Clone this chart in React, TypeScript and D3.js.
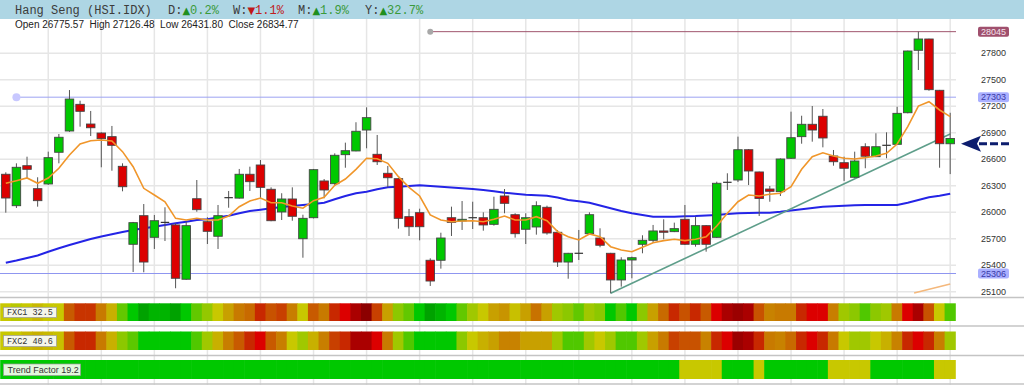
import React from 'react';
import * as d3 from 'd3';

// ---- Data ----
const opens = [26430,26074,26527,26267,26320,26679,26920,27222,26999,26897,26856,26520,25637,25961,25716,25885,25856,25241,26153,25893,25728,26165,26160,26430,26535,26260,26003,26150,25700,25938,26354,26323,26652,26694,26931,26656,26441,26380,25950,25995,25456,25456,25938,25901,25938,25938,25863,26184,25972,25807,25833,26056,25773,25436,25535,25757,25708,25535,25233,25459,25637,25682,25788,25780,25920,25637,25848,25716,26339,26365,26708,26456,26263,26233,26611,26856,26996,27087,26637,26561,26396,26742,26629,26758,26769,27127,27834,27962,27381,26775.57];
const highs = [26452,26554,26629,26396,26686,26886,27384,27263,27147,26905,26977,26554,25890,26093,25969,26056,25875,25893,26365,25943,26082,26241,26490,26516,26592,26282,26215,26282,25972,26490,26376,26667,26788,27019,27188,26875,26524,26385,26037,26040,25478,25768,26063,26127,26119,25999,26176,26263,25988,25988,26124,26074,25799,25540,25799,25999,25818,25540,25490,25497,25739,25856,25920,25882,26082,25950,25855,26346,26441,26856,26715,26460,26297,26610,27139,27093,27203,27169,26705,26629,26686,26781,26894,26905,27195,27830,28045,27965,27385,27126.48];
const lows = [25995,26048,26384,26063,26310,26554,26910,26969,26863,26509,26470,26237,25323,25320,25584,25674,25139,25235,26006,25640,25584,26051,26155,26241,26150,25898,25912,25904,25485,25930,26158,26297,26504,26690,26724,26535,26282,25814,25731,25682,25165,25361,25731,25799,25810,25791,25848,25988,25712,25640,25746,25746,25380,25247,25459,25750,25603,25082,25157,25252,25535,25655,25694,25775,25630,25610,25553,25710,26252,26342,26308,25957,26119,26184,26605,26776,26799,26735,26527,26354,26390,26498,26625,26611,26762,27120,27611,27376,26504,26431.80];
const closes = [26161,26509,26486,26131,26618,26849,27282,27143,26957,26833,26758,26289,25882,25436,25904,25885,25252,25848,26029,25784,25961,26165,26430,26346,26282,25904,26150,25954,25931,26482,26252,26645,26697,26917,27071,26572,26391,25931,25836,25836,25221,25708,25886,25920,25938,25856,26033,26101,25757,25938,26074,25765,25436,25535,25535,25972,25626,25233,25459,25485,25682,25788,25773,25814,25637,25848,25637,26328,26339,26708,26467,26156,26237,26603,26844,26996,26931,26841,26572,26498,26580,26634,26742,26758,27120,27826,27962,27388,26776,26834.77];

const fastMA = [26328,26357,26388,26328,26388,26498,26648,26773,26810,26818,26807,26686,26516,26271,26195,26119,25931,25912,25931,25912,25912,25957,26063,26127,26161,26108,26108,26071,26045,26131,26169,26305,26376,26486,26611,26606,26554,26403,26282,26184,25969,25912,25893,25901,25904,25893,25920,25957,25912,25912,25950,25904,25780,25723,25686,25754,25723,25610,25572,25553,25603,25655,25678,25694,25678,25694,25723,25844,25988,26119,26195,26184,26203,26215,26289,26486,26629,26674,26637,26611,26603,26618,26637,26668,26773,26969,27203,27252,27158,27082];
const slowMA = [25427,25453,25482,25510,25553,25592,25629,25663,25697,25725,25750,25776,25799,25818,25836,25856,25875,25893,25912,25920,25940,25961,25988,26014,26029,26045,26059,26071,26082,26093,26108,26147,26184,26215,26233,26260,26282,26289,26297,26305,26297,26289,26280,26271,26263,26252,26237,26221,26210,26199,26193,26187,26167,26139,26124,26108,26076,26045,26014,25988,25969,25950,25950,25950,25954,25957,25963,25969,25980,25988,25991,25995,25995,26006,26020,26033,26048,26063,26068,26074,26079,26082,26082,26082,26082,26108,26139,26169,26187,26210];

const fxc1 = [50,48,50,52,50,50,70,78,78,62,53,33,20,4,10,10,4,20,33,42,50,55,62,66,80,72,76,61,50,70,62,80,85,90,100,76,55,40,33,20,4,10,20,33,45,50,55,57,51,55,64,55,45,40,33,45,40,20,30,20,40,55,66,80,72,80,70,85,90,95,90,72,60,62,62,80,85,85,61,45,40,30,40,45,62,85,90,72,50,30];
const fxc2 = [50,50,52,53,52,51,70,80,80,62,53,40,32,20,20,20,20,20,30,45,53,61,70,80,85,70,61,50,45,53,61,76,80,90,90,85,62,45,30,20,20,20,20,40,50,53,55,60,60,55,55,55,45,30,30,45,50,45,30,30,45,55,62,76,72,72,60,80,85,95,90,80,62,60,66,80,85,80,62,50,45,45,50,53,60,80,85,80,61,45];
const trendFactor = [20,20,20,20,20,20,20,20,20,20,20,20,20,20,20,20,20,20,20,20,20,20,20,20,20,20,20,20,20,20,20,20,20,20,20,20,20,20,20,20,20,20,20,20,20,20,20,20,20,20,20,20,20,20,20,20,20,20,20,20,20,20,20,20,50,50,50,50,20,20,20,50,20,20,20,20,20,20,50,50,50,50,20,20,20,20,20,20,50,50];

const yTicks = [25100,25400,25700,26000,26300,26600,26900,27200,27500,27800];
const levelValues = [28045, 27303, 25306];
const levelStartIdx = [40, 1, 0];
const trendPoints: [number, number][] = [[57, 25082], [89, 26886]];
const minorPoints: [number, number][] = [[85.6, 25086], [89, 25188]];

const statLabels = ['D', 'W', 'M', 'Y'];
const statValues = [0.2, -1.1, 1.9, 32.7];
const heatLabels = ['FXC1 32.5', 'FXC2 40.6', 'Trend Factor 19.2'];

export default function App() {
  const W = 1024, H = 385;
  const n = closes.length;
  const plotRight = 956;
  const x = d3.scaleBand<number>().domain(d3.range(n)).range([0.5, 955.5]);
  const bw = x.bandwidth();
  const cx = (i: number) => 0.5 + (i + 0.5) * bw;
  const y = d3.scaleLinear().domain([25100, 27800]).range([291.7, 53.3]);

  const heatColor = d3.scaleLinear<string>()
    .domain([0, 10, 20, 30, 40, 45, 50, 55, 60, 65, 70, 75, 80, 85, 90, 100])
    .range(['#009600', '#00b400', '#00c800', '#50c800', '#8cc800', '#a0c800', '#c8c800', '#c8a000', '#c88200', '#c86e00', '#c85a00', '#c84600', '#c82800', '#dc0000', '#aa0000', '#8c0000']);

  const line = d3.line<number>().x((_, i) => cx(i)).y(d => y(d));
  const ptLine = d3.line<[number, number]>().x(d => cx(d[0])).y(d => y(d[1]));

  const gridX = d3.range(4, n, 5);
  const bodyW = bw * 0.8;

  const rows = [
    { vals: fxc1, top: 303.3, h: 17.7, label: heatLabels[0], mono: true, boxW: 53 },
    { vals: fxc2, top: 331.5, h: 18.5, label: heatLabels[1], mono: true, boxW: 53 },
    { vals: trendFactor, top: 360, h: 19, label: heatLabels[2], mono: false, boxW: 77 },
  ];
  const seps = [297.5, 326, 355.5, 384];

  const statX = [168, 233, 298, 365];
  const lastOpenY = y(opens[n - 1]);

  const levelStyle = [
    { stroke: '#a0566e', box: '#a0506e', text: '#f4e4ec', dot: '#a8a8a8', r: 3 },
    { stroke: '#9ca2f2', box: '#aab0ff', text: '#3a3aa8', dot: '#c8c8ff', r: 4 },
    { stroke: '#8f96f0', box: '#aab0ff', text: '#3a3aa8', dot: null, r: 0 },
  ];

  return (
    <svg width={W} height={H} style={{ position: 'absolute', left: 0, top: 0, background: '#fff' }}
      fontFamily="'Liberation Sans', Arial, sans-serif">
      {/* header */}
      <rect x={0} y={0} width={W} height={19} fill="#aed6e4" />
      <text x={15} y={14} fontFamily="'Liberation Mono', monospace" fontSize={12} fill="#3c3c3c">Hang Seng (HSI.IDX)</text>
      {statLabels.map((l, k) => {
        const v = statValues[k];
        const up = v >= 0;
        return (
          <text key={l} x={statX[k]} y={14} fontFamily="'Liberation Mono', monospace" fontSize={12} fill="#3c3c3c">
            {l}:<tspan fill={up ? '#1f8f1f' : '#c01818'} fontFamily="'DejaVu Sans', sans-serif" fontSize={10}>{up ? '▲' : '▼'}</tspan>
            <tspan fill={up ? '#3a9a3a' : '#c02020'}>{Math.abs(v).toFixed(1)}%</tspan>
          </text>
        );
      })}

      {/* grid */}
      {yTicks.map(t => (
        <line key={'h' + t} x1={0} x2={plotRight} y1={y(t)} y2={y(t)} stroke="#e6e6e6" strokeWidth={1.5} />
      ))}
      {gridX.map(i => (
        <line key={'v' + i} x1={cx(i)} x2={cx(i)} y1={19} y2={H} stroke="#e6e6e6" strokeWidth={1.5} />
      ))}

      <text x={15} y={28} fontSize={10} fill="#222">
        {`Open ${opens[n - 1].toFixed(2)}  High ${highs[n - 1].toFixed(2)}  Low ${lows[n - 1].toFixed(2)}  Close ${closes[n - 1].toFixed(2)}`.replace(/  /g, '\u00a0\u00a0')}
      </text>

      {/* level lines */}
      {levelValues.map((v, k) => (
        <g key={'lv' + k}>
          <line x1={levelStartIdx[k] === 0 ? 0 : cx(levelStartIdx[k])} x2={plotRight} y1={y(v)} y2={y(v)} stroke={levelStyle[k].stroke} strokeWidth={1} />
          {levelStyle[k].dot && <circle cx={cx(levelStartIdx[k])} cy={y(v)} r={levelStyle[k].r} fill={levelStyle[k].dot} />}
        </g>
      ))}

      {/* moving averages */}
      <path d={line(slowMA) || ''} fill="none" stroke="#2424e6" strokeWidth={2} />
      <path d={ptLine(trendPoints) || ''} fill="none" stroke="#5e9e8a" strokeWidth={1.6} />
      <path d={ptLine(minorPoints) || ''} fill="none" stroke="#f4b87c" strokeWidth={1.5} />

      {/* candles */}
      {closes.map((c, i) => {
        const o = opens[i];
        const xc = cx(i);
        const top = y(Math.max(o, c));
        const bot = y(Math.min(o, c));
        const doji = Math.abs(o - c) < 1;
        return (
          <g key={'c' + i}>
            <line x1={xc} x2={xc} y1={y(highs[i])} y2={y(lows[i])} stroke="#555" strokeWidth={1} />
            {doji ? (
              <line x1={xc - bodyW / 2} x2={xc + bodyW / 2} y1={top} y2={top} stroke="#333" strokeWidth={1.2} />
            ) : (
              <rect x={xc - bodyW / 2} y={top} width={bodyW} height={Math.max(1, bot - top)}
                fill={c > o ? '#00c800' : '#dc0000'} stroke="#444" strokeWidth={0.9} />
            )}
          </g>
        );
      })}
      <path d={line(fastMA) || ''} fill="none" stroke="#f0962a" strokeWidth={1.6} />

      {/* separators */}
      {seps.map(s => <line key={'s' + s} x1={0} x2={W} y1={s} y2={s} stroke="#c4c4c4" strokeWidth={1.5} />)}

      {/* heat rows */}
      {rows.map((r, k) => (
        <g key={'r' + k}>
          {r.vals.map((v, i) => (
            <rect key={i} x={x(i)! - 0.3} y={r.top} width={bw + 0.6} height={r.h} fill={heatColor(v)} />
          ))}
          <rect x={3.5} y={r.top + 4} width={r.boxW} height={r.h - 7.5} fill={r.mono ? '#f6f6ea' : '#e2f7dc'} stroke="#9a9a9a" strokeWidth={0.7} />
          <text x={r.mono ? 7 : 7.5} y={r.top + r.h / 2 + 3} fontSize={r.mono ? 8.5 : 9}
            fontFamily={r.mono ? "'Liberation Mono', monospace" : "'Liberation Sans', Arial, sans-serif"} fill="#333">{r.label}</text>
        </g>
      ))}

      {/* y axis labels */}
      {yTicks.map(t => (
        <text key={'t' + t} x={981} y={y(t)} dy="0.35em" fontSize={9} fill="#333">{t}</text>
      ))}
      {levelValues.map((v, k) => (
        <g key={'lb' + k}>
          <rect x={978} y={y(v) - 5} width={31} height={10} rx={2} fill={levelStyle[k].box} />
          <text x={993.5} y={y(v)} dy="0.35em" textAnchor="middle" fontSize={9} fill={levelStyle[k].text}>{v}</text>
        </g>
      ))}

      {/* arrow */}
      <path d={`M961,${lastOpenY} L981,${lastOpenY - 8} L977,${lastOpenY} L981,${lastOpenY + 8} Z`} fill="#0d1d6e" />
      <line x1={979} x2={1011} y1={lastOpenY} y2={lastOpenY} stroke="#0d1d6e" strokeWidth={3} strokeDasharray="8 3" />
    </svg>
  );
}
